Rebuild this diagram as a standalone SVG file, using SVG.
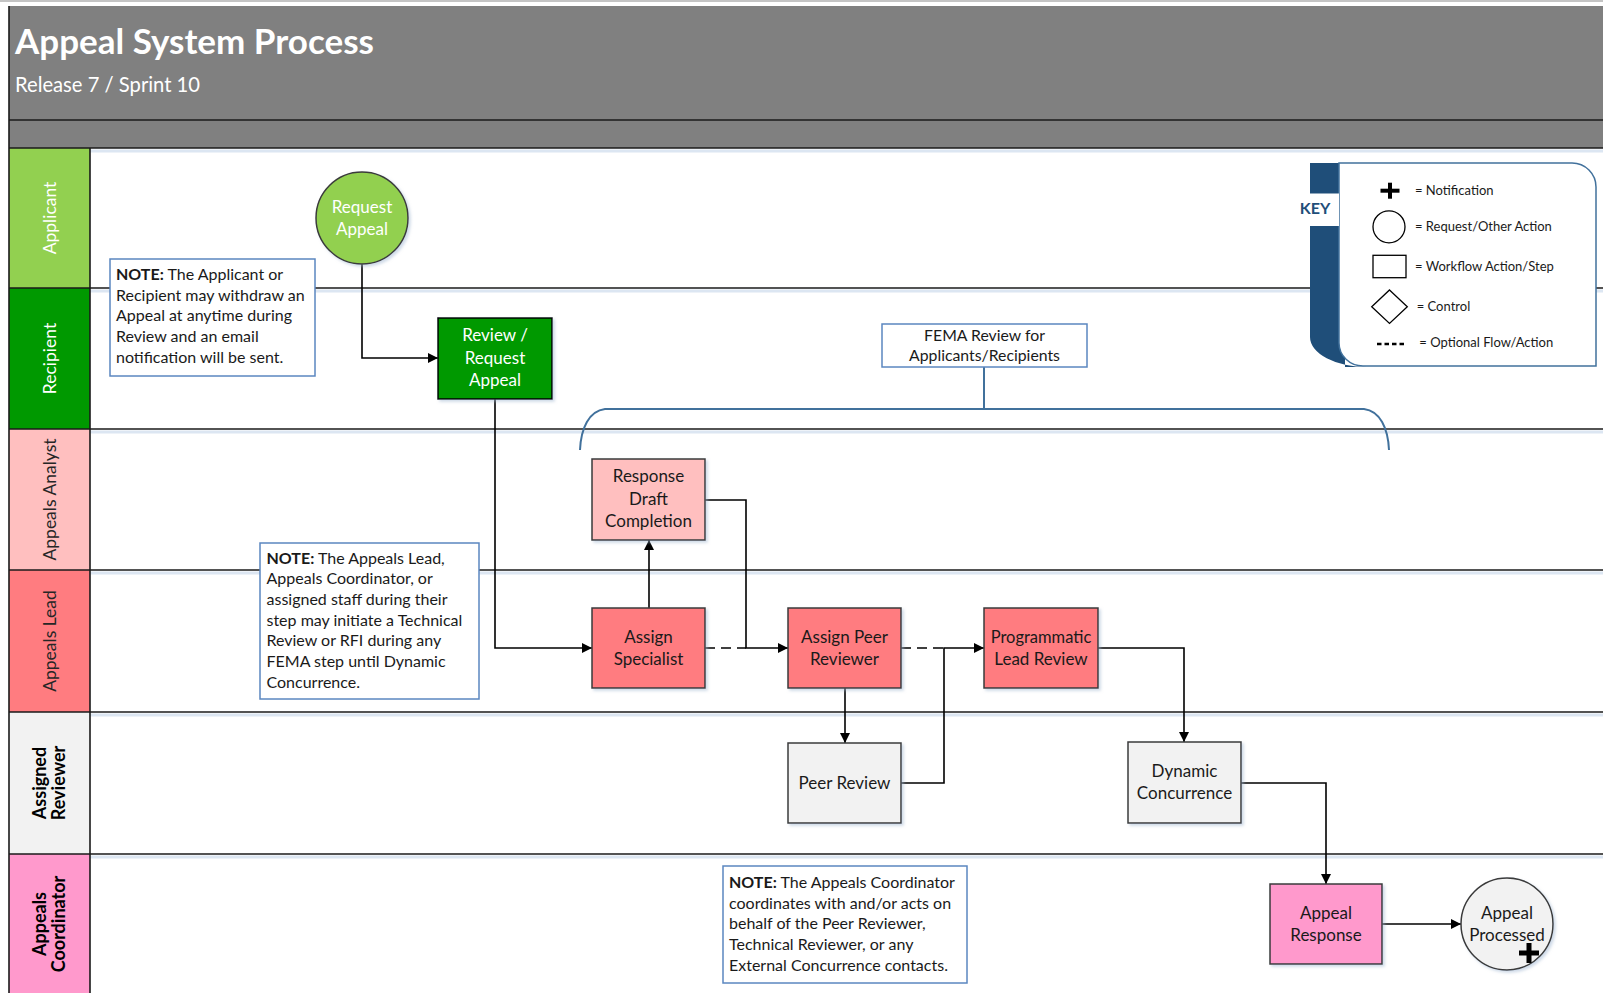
<svg xmlns="http://www.w3.org/2000/svg" width="1603" height="993" viewBox="0 0 1603 993">
<defs>
<style>
text{font-family:Lato,"Open Sans","DejaVu Sans",sans-serif;}
.title{font-size:35px;font-weight:bold;fill:#fff}
.sub{font-size:20.2px;fill:#fff}
.lane{font-size:17.5px;text-anchor:middle}
.laneb{font-size:18px;font-weight:bold;text-anchor:middle;fill:#000}
.lbl{font-size:17px;text-anchor:middle;fill:#1a1a1a}
.lblw{font-size:17px;text-anchor:middle;fill:#fff}
.note{font-size:16px;fill:#1a1a1a}
.nbox{fill:#fff;stroke:#5B87C0;stroke-width:1.5}
.node{stroke:#3a3a3a;stroke-width:1.5}
.conn{fill:none;stroke:#000;stroke-width:1.6}
.dash{stroke-dasharray:10 6}
.lline{stroke:#1a1a1a;stroke-width:1.6}
.key{font-size:13px;fill:#1a1a1a}
.blue{fill:none;stroke:#41719C;stroke-width:2}
</style>
<marker id="arr" viewBox="0 0 10 10" refX="10" refY="5" markerWidth="10" markerHeight="10" markerUnits="userSpaceOnUse" orient="auto"><path d="M0,0 L10,5 L0,10 z" fill="#000"/></marker>
<filter id="sh" x="-10%" y="-10%" width="130%" height="130%"><feDropShadow dx="2" dy="2" stdDeviation="1.5" flood-color="#9db3cf" flood-opacity="0.5"/></filter>
</defs>
<rect x="0" y="0" width="1603" height="993" fill="#fff"/>
<rect x="0" y="0" width="1603" height="2" fill="#c4c4c4"/>
<g id="header">
<rect x="9" y="6" width="1594" height="142" fill="#808080"/>
<line x1="9" y1="120" x2="1603" y2="120" class="lline"/>
<text x="15" y="54" class="title">Appeal System Process</text>
<text x="15" y="92" class="sub">Release 7 / Sprint 10</text>
</g>
<g id="lanes">
<rect x="9" y="148" width="81" height="140" fill="#92D050"/>
<rect x="9" y="288" width="81" height="141" fill="#009900"/>
<rect x="9" y="429" width="81" height="141" fill="#FFBFBF"/>
<rect x="9" y="570" width="81" height="142" fill="#FF7C80"/>
<rect x="9" y="712" width="81" height="142" fill="#F2F2F2"/>
<rect x="9" y="854" width="81" height="139" fill="#FF99CC"/>
<g stroke="#dce6f2" stroke-width="3">
<line x1="90" y1="151" x2="1603" y2="151"/>
<line x1="90" y1="291" x2="1603" y2="291"/>
<line x1="90" y1="432" x2="1603" y2="432"/>
<line x1="90" y1="573" x2="1603" y2="573"/>
<line x1="90" y1="715" x2="1603" y2="715"/>
<line x1="90" y1="857" x2="1603" y2="857"/>
</g>
<line x1="9" y1="148" x2="1603" y2="148" class="lline"/>
<line x1="9" y1="288" x2="1603" y2="288" class="lline"/>
<line x1="9" y1="429" x2="1603" y2="429" class="lline"/>
<line x1="9" y1="570" x2="1603" y2="570" class="lline"/>
<line x1="9" y1="712" x2="1603" y2="712" class="lline"/>
<line x1="9" y1="854" x2="1603" y2="854" class="lline"/>
<line x1="9" y1="6" x2="9" y2="993" class="lline"/>
<line x1="90" y1="148" x2="90" y2="993" class="lline"/>
<text class="lane" fill="#fff" transform="translate(49.5,218) rotate(-90)" y="6">Applicant</text>
<text class="lane" fill="#fff" transform="translate(49.5,358.5) rotate(-90)" y="6">Recipient</text>
<text class="lane" fill="#262626" transform="translate(49.5,499.5) rotate(-90)" y="6">Appeals Analyst</text>
<text class="lane" fill="#262626" transform="translate(49.5,641) rotate(-90)" y="6">Appeals Lead</text>
<text class="laneb" transform="translate(49.5,783) rotate(-90)"><tspan x="0" y="-4">Assigned</tspan><tspan x="0" y="15">Reviewer</tspan></text>
<text class="laneb" transform="translate(49.5,924) rotate(-90)"><tspan x="0" y="-4">Appeals</tspan><tspan x="0" y="15">Coordinator</tspan></text>
</g>
<g id="fema-bracket">
<path class="blue" d="M580,450 C581,428 589,411 605,409 L1364,409 C1380,411 1388,428 1389,450"/>
<line x1="984" y1="367" x2="984" y2="409" stroke="#41719C" stroke-width="2"/>
<rect x="882" y="324" width="205" height="43" class="nbox"/>
<text x="984.5" y="341" class="lbl" style="font-size:15.8px">FEMA Review for</text>
<text x="984.5" y="361" class="lbl" style="font-size:15.8px">Applicants/Recipients</text>
</g>
<g id="connectors">
<path class="conn" d="M362,264 V358 H438" marker-end="url(#arr)"/>
<path class="conn" d="M495,399 V648 H592" marker-end="url(#arr)"/>
<path class="conn" d="M649,608 V540" marker-end="url(#arr)"/>
<path class="conn dash" d="M705,648 H746"/>
<path class="conn" d="M705,500 H746 V648 H788" marker-end="url(#arr)"/>
<path class="conn" d="M845,688 V743" marker-end="url(#arr)"/>
<path class="conn dash" d="M901,648 H944"/>
<path class="conn" d="M901,783 H944 V648 H984" marker-end="url(#arr)"/>
<path class="conn" d="M1098,648 H1184 V742" marker-end="url(#arr)"/>
<path class="conn" d="M1241,783 H1326 V884" marker-end="url(#arr)"/>
<path class="conn" d="M1382,924 H1461" marker-end="url(#arr)"/>
</g>
<g id="request-appeal">
<circle cx="362" cy="218" r="46" fill="#92D050" class="node" filter="url(#sh)"/>
<text x="362" y="212.5" class="lblw">Request</text>
<text x="362" y="235" class="lblw">Appeal</text>
</g>
<g id="review-request-appeal">
<rect x="438" y="318" width="114" height="81" fill="#009900" stroke="#000" stroke-width="1.5" filter="url(#sh)"/>
<text x="495" y="341" class="lblw">Review /</text>
<text x="495" y="364" class="lblw">Request</text>
<text x="495" y="386" class="lblw">Appeal</text>
</g>
<g id="response-draft">
<rect x="592" y="459" width="113" height="81" fill="#FFBFBF" class="node" filter="url(#sh)"/>
<text x="648.5" y="482" class="lbl">Response</text>
<text x="648.5" y="505" class="lbl">Draft</text>
<text x="648.5" y="527" class="lbl">Completion</text>
</g>
<g id="assign-specialist">
<rect x="592" y="608" width="113" height="80" fill="#FF7C80" class="node" filter="url(#sh)"/>
<text x="648.5" y="643" class="lbl">Assign</text>
<text x="648.5" y="665" class="lbl">Specialist</text>
</g>
<g id="assign-peer-reviewer">
<rect x="788" y="608" width="113" height="80" fill="#FF7C80" class="node" filter="url(#sh)"/>
<text x="844.5" y="643" class="lbl">Assign Peer</text>
<text x="844.5" y="665" class="lbl">Reviewer</text>
</g>
<g id="programmatic-lead-review">
<rect x="984" y="608" width="114" height="80" fill="#FF7C80" class="node" filter="url(#sh)"/>
<text x="1041" y="643" class="lbl" style="font-size:16.5px">Programmatic</text>
<text x="1041" y="665" class="lbl">Lead Review</text>
</g>
<g id="peer-review">
<rect x="788" y="743" width="113" height="80" fill="#F2F2F2" class="node" filter="url(#sh)"/>
<text x="844.5" y="789" class="lbl">Peer Review</text>
</g>
<g id="dynamic-concurrence">
<rect x="1128" y="742" width="113" height="81" fill="#F2F2F2" class="node" filter="url(#sh)"/>
<text x="1184.5" y="777" class="lbl">Dynamic</text>
<text x="1184.5" y="799" class="lbl">Concurrence</text>
</g>
<g id="appeal-response">
<rect x="1270" y="884" width="112" height="80" fill="#FF99CC" class="node" filter="url(#sh)"/>
<text x="1326" y="919" class="lbl">Appeal</text>
<text x="1326" y="941" class="lbl">Response</text>
</g>
<g id="appeal-processed">
<circle cx="1507" cy="924" r="46" fill="#F2F2F2" class="node" filter="url(#sh)"/>
<text x="1507" y="919" class="lbl">Appeal</text>
<text x="1507" y="941" class="lbl">Processed</text>
<rect x="1519" y="950.5" width="20" height="5" fill="#000"/>
<rect x="1526.5" y="943" width="5" height="20" fill="#000"/>
</g>
<g id="note-applicant">
<rect x="110" y="259" width="205" height="117" class="nbox"/>
<text class="note"><tspan x="116" y="280"><tspan font-weight="bold">NOTE:</tspan> The Applicant or</tspan><tspan x="116" y="300.7">Recipient may withdraw an</tspan><tspan x="116" y="321.4">Appeal at anytime during</tspan><tspan x="116" y="342.1">Review and an email</tspan><tspan x="116" y="362.8">notification will be sent.</tspan></text>
</g>
<g id="note-lead">
<rect x="260" y="543" width="219" height="156" class="nbox"/>
<text class="note"><tspan x="266.5" y="563.5"><tspan font-weight="bold">NOTE:</tspan> The Appeals Lead,</tspan><tspan x="266.5" y="584.2">Appeals Coordinator, or</tspan><tspan x="266.5" y="604.9">assigned staff during their</tspan><tspan x="266.5" y="625.6">step may initiate a Technical</tspan><tspan x="266.5" y="646.3">Review or RFI during any</tspan><tspan x="266.5" y="667">FEMA step until Dynamic</tspan><tspan x="266.5" y="687.7">Concurrence.</tspan></text>
</g>
<g id="note-coordinator">
<rect x="723" y="866" width="244" height="117" class="nbox"/>
<text class="note"><tspan x="729" y="888"><tspan font-weight="bold">NOTE:</tspan> The Appeals Coordinator</tspan><tspan x="729" y="908.7">coordinates with and/or acts on</tspan><tspan x="729" y="929.4">behalf of the Peer Reviewer,</tspan><tspan x="729" y="950.1">Technical Reviewer, or any</tspan><tspan x="729" y="970.8">External Concurrence contacts.</tspan></text>
</g>
<g id="key">
<path d="M1310,163 H1345 V367 H1367 A57,30 0 0 1 1310,337 Z" fill="#1F4E79"/>
<path d="M1339,163 H1572 A24,24 0 0 1 1596,187 V366 H1363 A24,23 0 0 1 1339,343 Z" fill="#fff" stroke="#41719C" stroke-width="1.5"/>
<rect x="1300" y="193.5" width="39" height="32.5" fill="#fff"/>
<text x="1315" y="214" style="font-size:16px;font-weight:bold;fill:#1F4E79" text-anchor="middle">KEY</text>
<rect x="1380.5" y="188.7" width="19" height="4" fill="#000"/>
<rect x="1388" y="182.7" width="4" height="16" fill="#000"/>
<text x="1415" y="195" class="key">= Notification</text>
<circle cx="1389" cy="226.8" r="16" fill="#fff" stroke="#000" stroke-width="1.3"/>
<text x="1415" y="231" class="key">= Request/Other Action</text>
<rect x="1373" y="255.3" width="33" height="22.4" fill="#fff" stroke="#000" stroke-width="1.3"/>
<text x="1415" y="270.7" class="key">= Workflow Action/Step</text>
<path d="M1389.5,290 L1407.3,306.7 L1389.5,323.4 L1371.7,306.7 Z" fill="#fff" stroke="#000" stroke-width="1.3"/>
<text x="1416.7" y="311" class="key">= Control</text>
<line x1="1377" y1="344" x2="1404" y2="344" stroke="#000" stroke-width="2.5" stroke-dasharray="4.5 3"/>
<text x="1419.3" y="347.3" class="key">= Optional Flow/Action</text>
</g>
</svg>
